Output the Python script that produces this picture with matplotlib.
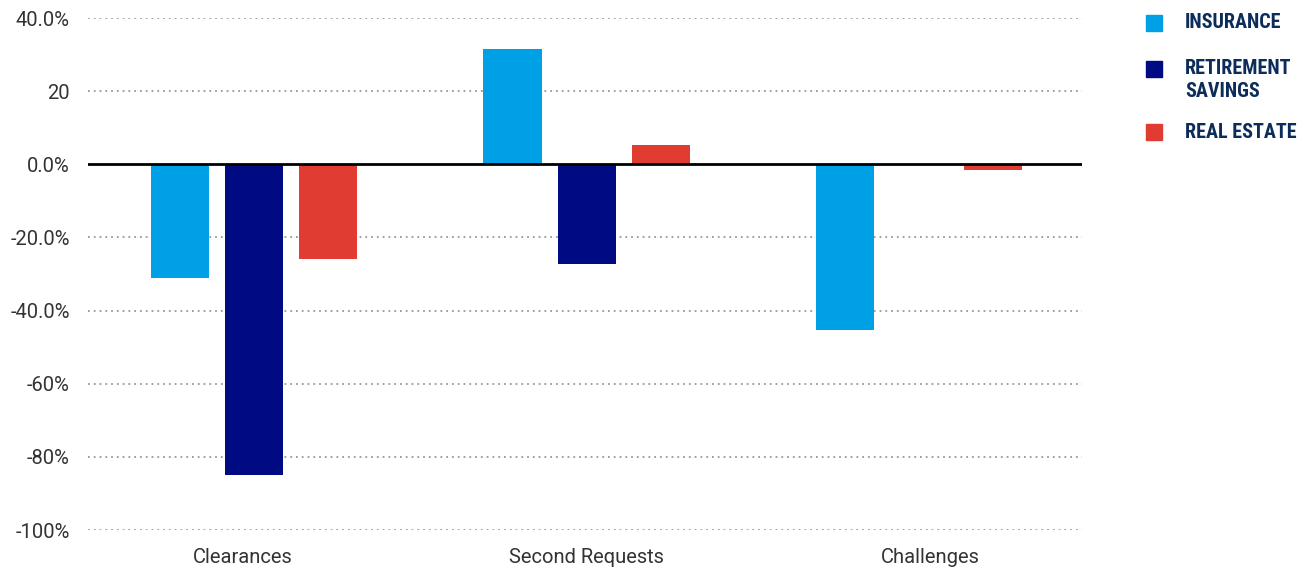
import numpy as np
import matplotlib.pyplot as plt

categories = ["Clearances", "Second Requests", "Challenges"]
series = ["INSURANCE", "RETIREMENT\nSAVINGS", "REAL ESTATE"]
insurance = [-31.1, 31.6, -45.4]
retirement = [-85.0, -27.3, 0.0]
real_estate = [-26.0, 5.2, -1.6]
y_ticks = [40, 20, 0, -20, -40, -60, -80, -100]
y_tick_labels = ["40.0%", "20", "0.0%", "-20.0%", "-40.0%", "-60%", "-80%", "-100%"]

colors = ["#00a0e6", "#000a82", "#e03c31"]
text_color = "#333333"
legend_color = "#0c2c5a"

plt.rcParams['font.family'] = ['Roboto', 'DejaVu Sans']

W, H = 1304, 571
fig = plt.figure(figsize=(W / 100, H / 100), dpi=100)
ax = fig.add_axes([88 / W, 1 - 530 / H, (1082 - 88) / W, (530 - 18) / H])

x = np.arange(len(categories))
width = 0.175
offset = 0.223
for i, vals in enumerate([insurance, retirement, real_estate]):
    ax.bar(x + (i - 1) * offset, vals, width, color=colors[i], zorder=2)

ax.set_ylim(-100, 40)
ax.set_xlim(-0.5, 2.49)
ax.set_yticks(y_ticks)
ax.set_yticklabels(y_tick_labels, fontsize=14.5, color=text_color)
# category labels sit a bit wider apart than the bar groups
ax.set_xticks(x + (x - 1) * 0.034)
ax.set_xticklabels(categories, fontsize=14.5, color=text_color)
ax.tick_params(axis='both', length=0)
ax.tick_params(axis='y', pad=13)
ax.tick_params(axis='x', pad=13)

for t in y_ticks:
    if t != 0:
        ax.axhline(t, color="#999999", linestyle=(0, (1, 2.2)), linewidth=1.3, zorder=1)
ax.axhline(0, color="black", linewidth=2, zorder=3)

for s in ax.spines.values():
    s.set_visible(False)

# legend drawn by hand to match the stacked layout
square_y = [23, 69, 132]
text_y = [23, 80, 132]
for label, c, sy, ty in zip(series, colors, square_y, text_y):
    fig.patches.append(plt.Rectangle((1146 / W, 1 - (sy + 8) / H), 16 / W, 16 / H,
                                     transform=fig.transFigure, color=c))
    fig.text(1185 / W, 1 - ty / H, label, fontsize=14.5, fontweight='bold',
             color=legend_color, va='center', ha='left',
             family=['Roboto Condensed', 'Roboto', 'DejaVu Sans'],
             linespacing=1.25)

fig.savefig("out.png", dpi=100)
